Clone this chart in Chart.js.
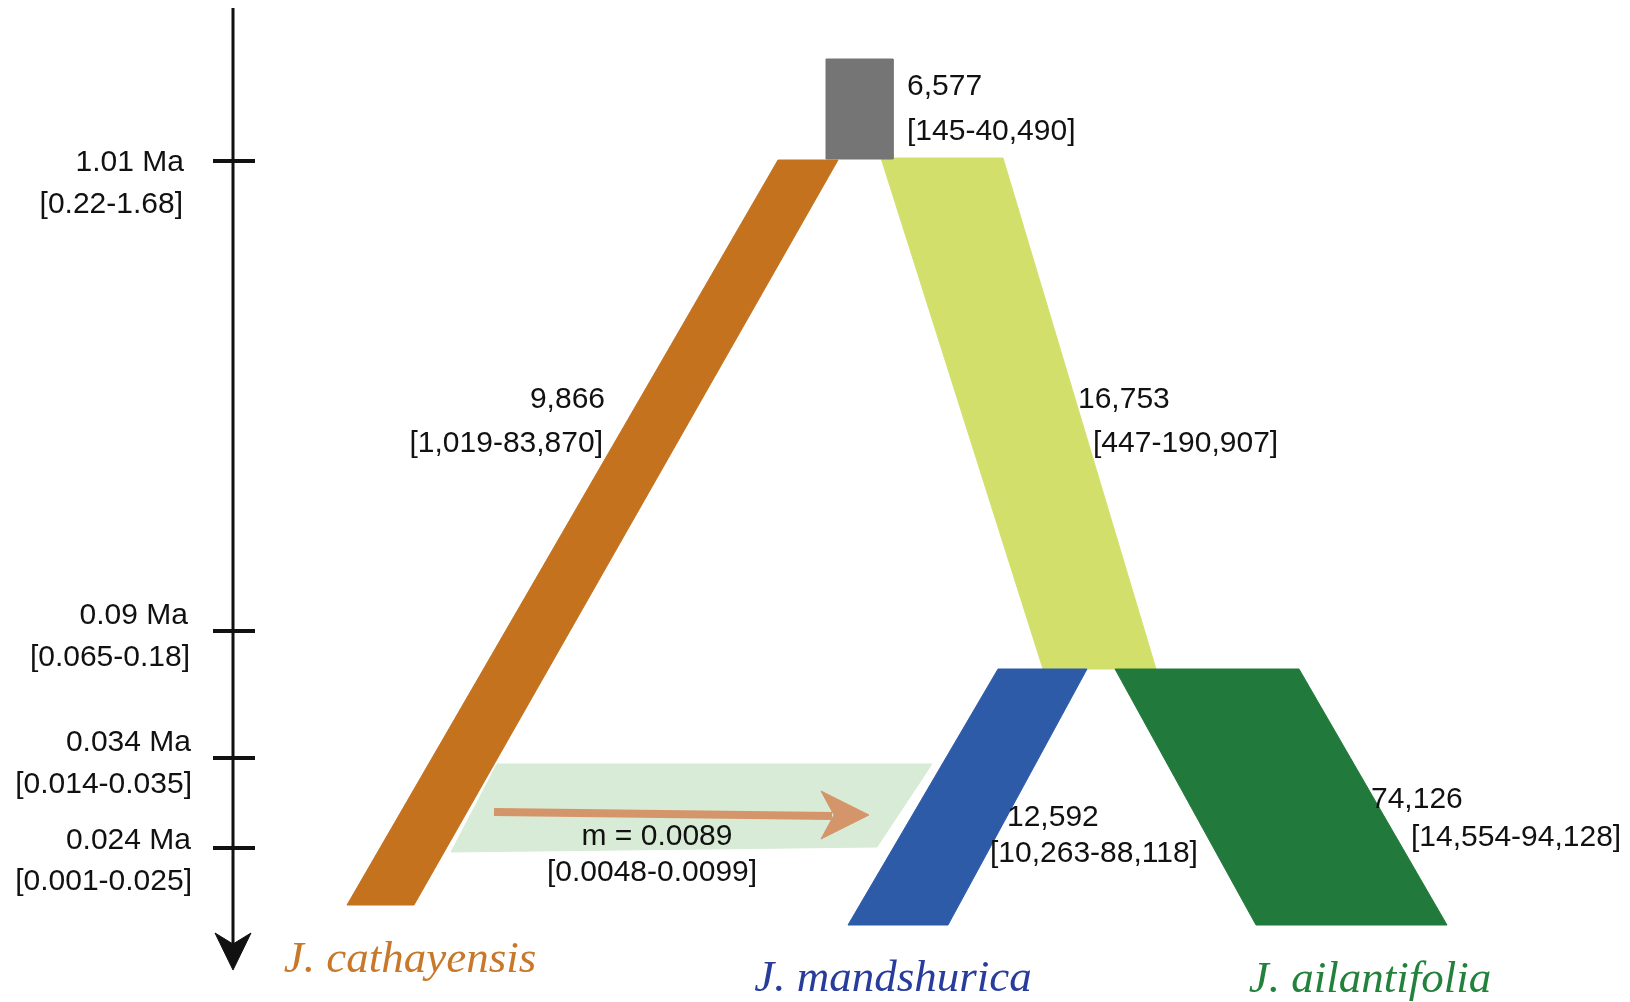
<!DOCTYPE html>
<html>
<head>
<meta charset="utf-8">
<title>Juglans demographic model</title>
<script src="https://cdn.jsdelivr.net/npm/chart.js@4.4.1/dist/chart.umd.min.js"></script>
<style>
  html, body { margin: 0; padding: 0; background: #ffffff; }
  #wrap { width: 1630px; height: 1002px; position: relative; }
</style>
</head>
<body>
<div id="wrap"><canvas id="modelChart"></canvas></div>
<script>
// Diagram units: x runs 0-1630 across, y runs 0-1002 down the page (time goes down)

// Split times on the time axis, with 95% intervals
const epochNames = ['1.01 Ma', '0.09 Ma', '0.034 Ma', '0.024 Ma'];
const epochRanges = ['[0.22-1.68]', '[0.065-0.18]', '[0.014-0.035]', '[0.001-0.025]'];
const epochDepth = [161, 631, 758, 848];

// Effective population sizes with 95% intervals
// order: ancestor, cathayensis, mandshurica+ailantifolia ancestor, mandshurica, ailantifolia
const popSizes = ['6,577', '9,866', '16,753', '12,592', '74,126'];
const popRanges = ['[145-40,490]', '[1,019-83,870]', '[447-190,907]', '[10,263-88,118]', '[14,554-94,128]'];

// Gene flow cathayensis -> mandshurica
const migRate = 'm = 0.0089';
const migRange = '[0.0048-0.0099]';

const species = ['J. cathayensis', 'J. mandshurica', 'J. ailantifolia'];

// Branch outlines as [x, depth] corners
const ancestorBox = [[826, 59], [893, 59], [893, 159], [826, 159]];
const cathayensisBranch = [[778, 160], [838, 160], [414, 905], [347, 905]];
const innerBranch = [[881, 158], [1003, 158], [1156, 669], [1043, 669]];
const mandshuricaBranch = [[998, 669], [1087, 669], [948, 925], [848, 925]];
const ailantifoliaBranch = [[1115, 669], [1299, 669], [1447, 925], [1256, 925]];
const migrationBand = [[497, 764], [932, 764], [877, 847], [451, 852]];
const migrationShaft = [[494, 812], [832, 816]];
const migrationHead = [[821, 791], [869, 815], [821, 839], [834, 815]];

// Time axis
const axisLine = [[233, 8], [233, 946]];
const axisHead = [[233, 970], [215, 933], [233, 944], [251, 933]];
const tickSpan = [213, 255];

// --- text placement ---
const epochTextRight = [[184, 183], [188, 190], [191, 192], [191, 192]];
const epochTextDepth = [[163, 205], [616, 658], [743, 785], [841, 882]];
const popTextAnchor = [
  [907, 87, 907, 132, 'left'],
  [605, 400, 603, 444, 'right'],
  [1078, 400, 1093, 444, 'left'],
  [1007, 818, 990, 854, 'left'],
  [1371, 800, 1411, 838, 'left']
];
const migTextAnchor = [[657, 837], [652, 873]];
const speciesAnchor = [[410, 972], [893, 991], [1370, 992]];
const speciesColors = ['#c8782a', '#283c9c', '#22813b'];

const SANS = '30px "Liberation Sans", Arial, sans-serif';
const SERIF = 'italic 45px "Liberation Serif", "Times New Roman", serif';

function toXY(points) {
  return points.map(p => ({ x: p[0], y: p[1] }));
}

function polygon(points, color) {
  return {
    data: toXY(points.concat([points[0]])),
    backgroundColor: color,
    borderColor: color,
    borderWidth: 1,
    fill: 'shape',
    pointRadius: 0,
    tension: 0
  };
}

function stroke(points, color, width) {
  return {
    data: toXY(points),
    borderColor: color,
    borderWidth: width,
    borderCapStyle: 'butt',
    fill: false,
    pointRadius: 0,
    tension: 0
  };
}

// painting order, bottom first
const layers = [
  polygon(migrationBand, '#d8ebd6'),
  stroke(migrationShaft, '#d4956a', 8),
  polygon(migrationHead, '#d4956a'),
  polygon(cathayensisBranch, '#c4721e'),
  polygon(innerBranch, '#d2e06b'),
  polygon(mandshuricaBranch, '#2d5ba8'),
  polygon(ailantifoliaBranch, '#217a3b'),
  polygon(ancestorBox, '#757575'),
  stroke(axisLine, '#111111', 3),
  polygon(axisHead, '#111111')
];
epochDepth.forEach(d => {
  layers.push(stroke([[tickSpan[0], d], [tickSpan[1], d]], '#111111', 4));
});

// Chart.js draws dataset 0 on top, so hand them over reversed
const datasets = layers.slice().reverse();

const diagramText = {
  id: 'diagramText',
  afterDatasetsDraw(chart) {
    const { ctx, scales } = chart;
    const px = v => scales.x.getPixelForValue(v);
    const py = v => scales.y.getPixelForValue(v);
    const put = (text, x, y, align, font, color, baseline) => {
      ctx.font = font;
      ctx.fillStyle = color;
      ctx.textAlign = align;
      ctx.textBaseline = baseline || 'middle';
      ctx.fillText(text, px(x), py(y));
    };
    ctx.save();

    epochNames.forEach((name, i) => {
      put(name, epochTextRight[i][0], epochTextDepth[i][0], 'right', SANS, '#111111');
      put(epochRanges[i], epochTextRight[i][1], epochTextDepth[i][1], 'right', SANS, '#111111');
    });

    popSizes.forEach((size, i) => {
      const a = popTextAnchor[i];
      put(size, a[0], a[1], a[4], SANS, '#111111');
      put(popRanges[i], a[2], a[3], a[4], SANS, '#111111');
    });

    put(migRate, migTextAnchor[0][0], migTextAnchor[0][1], 'center', SANS, '#111111');
    put(migRange, migTextAnchor[1][0], migTextAnchor[1][1], 'center', SANS, '#111111');

    species.forEach((name, i) => {
      put(name, speciesAnchor[i][0], speciesAnchor[i][1], 'center', SERIF, speciesColors[i], 'alphabetic');
    });

    ctx.restore();
  }
};

new Chart(document.getElementById('modelChart').getContext('2d'), {
  type: 'line',
  data: { datasets: datasets },
  options: {
    responsive: true,
    maintainAspectRatio: false,
    animation: false,
    layout: { padding: 0 },
    plugins: {
      legend: { display: false },
      tooltip: { enabled: false }
    },
    events: [],
    scales: {
      x: { type: 'linear', min: 0, max: 1630, display: false },
      y: { type: 'linear', min: 0, max: 1002, reverse: true, display: false }
    }
  },
  plugins: [diagramText]
});
</script>
</body>
</html>
